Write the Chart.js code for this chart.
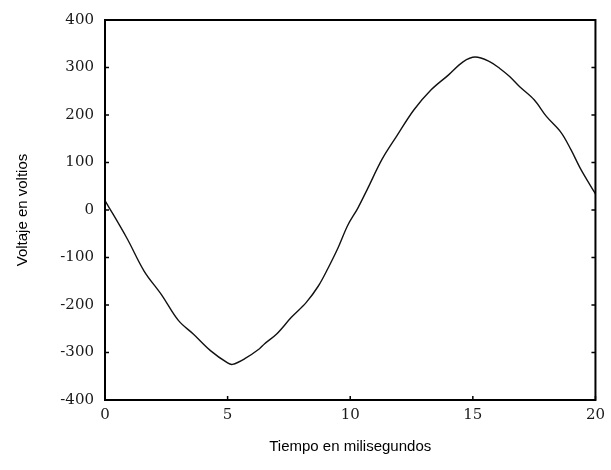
<!DOCTYPE html>
<html>
<head>
<meta charset="utf-8">
<script src="https://cdn.jsdelivr.net/npm/chart.js@4/dist/chart.umd.min.js"></script>
<style>
    html, body { margin: 0; padding: 0; background: #fff; }
    #wrap { width: 611px; height: 470px; position: relative; }
</style>
</head>
<body>
<div id="wrap"><canvas id="chart"></canvas></div>
<script>
// Time in ms and voltage in volts
const timeMs = [0.0, 0.9, 1.6, 2.3, 3.0, 3.6, 4.3, 5.0, 5.2, 5.7, 6.3, 6.5, 7.0, 7.6, 8.2, 8.7, 9.1, 9.5, 9.9, 10.3, 10.7, 11.3, 11.9, 12.6, 13.3, 14.0, 14.6, 15.1, 15.7, 16.1, 16.5, 16.9, 17.5, 18.0, 18.6, 19.0, 19.4, 19.8, 20.0];
const voltage = [20, -60, -129, -178, -233, -261, -296, -322, -325, -313, -292, -282, -261, -226, -195, -160, -122, -80, -32, 3, 44, 107, 156, 211, 253, 284, 312, 322, 312, 298, 281, 260, 232, 197, 163, 127, 86, 51, 34];

const xTicks = [0, 5, 10, 15, 20];
const yTicks = [-400, -300, -200, -100, 0, 100, 200, 300, 400];

const tickFont = { family: 'DejaVu Serif', size: 15 };
const titleFont = { family: 'Liberation Sans', size: 15 };

// small tick marks pointing into the plot, like the original
const innerTicks = {
    id: 'innerTicks',
    afterDatasetsDraw(chart) {
        const { ctx, chartArea: a, scales: { x, y } } = chart;
        ctx.save();
        ctx.strokeStyle = '#000';
        ctx.lineWidth = 1.5;
        ctx.beginPath();
        yTicks.forEach(v => {
            const py = y.getPixelForValue(v);
            ctx.moveTo(a.left, py); ctx.lineTo(a.left + 4, py);
            ctx.moveTo(a.right, py); ctx.lineTo(a.right - 4, py);
        });
        xTicks.forEach(v => {
            const px = x.getPixelForValue(v);
            ctx.moveTo(px, a.bottom); ctx.lineTo(px, a.bottom - 4);
        });
        ctx.stroke();
        // box
        ctx.lineWidth = 2;
        ctx.strokeRect(a.left, a.top, a.right - a.left, a.bottom - a.top);
        ctx.restore();
    }
};

new Chart(document.getElementById('chart'), {
    type: 'line',
    data: {
        datasets: [{
            data: timeMs.map((t, i) => ({ x: t, y: voltage[i] })),
            borderColor: '#111',
            borderWidth: 1.4,
            pointRadius: 0,
            tension: 0.35,
            fill: false
        }]
    },
    options: {
        responsive: true,
        maintainAspectRatio: false,
        animation: false,
        layout: { padding: { left: 14, right: 12, top: 16, bottom: 14 } },
        plugins: { legend: { display: false }, tooltip: { enabled: false } },
        scales: {
            x: {
                type: 'linear',
                min: 0,
                max: 20,
                afterBuildTicks: s => { s.ticks = xTicks.map(v => ({ value: v })); },
                afterFit: s => { s.height = 56; },
                grid: { display: false, drawTicks: false },
                border: { display: true, color: '#000', width: 2 },
                ticks: { color: '#1a1a1a', font: tickFont, padding: 6, maxRotation: 0 },
                title: { display: true, text: 'Tiempo en milisegundos', color: '#000', font: titleFont, padding: 0 }
            },
            y: {
                min: -400,
                max: 400,
                afterBuildTicks: s => { s.ticks = yTicks.map(v => ({ value: v })); },
                afterFit: s => { s.width = 91; },
                grid: { display: false, drawTicks: false },
                border: { display: true, color: '#000', width: 2 },
                ticks: { color: '#1a1a1a', font: tickFont, padding: 11 },
                title: { display: true, text: 'Voltaje en voltios', color: '#000', font: titleFont, padding: 0 }
            }
        }
    },
    plugins: [innerTicks]
});
</script>
</body>
</html>
